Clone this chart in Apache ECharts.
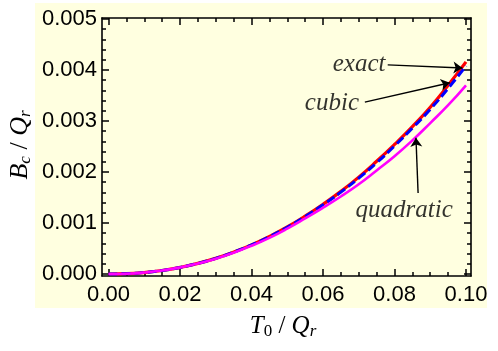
<!DOCTYPE html>
<html>
<head>
<meta charset="utf-8">
<script src="https://cdn.jsdelivr.net/npm/echarts@6/dist/echarts.min.js"></script>
<style>
  html, body { margin: 0; padding: 0; background: #fff; }
  #chart { width: 498px; height: 351px; }
</style>
</head>
<body>
<div id="chart"></div>
<script>
// T0/Qr sample points
const tValues = [0, 0.005, 0.01, 0.015, 0.02, 0.025, 0.03, 0.035, 0.04, 0.045, 0.05,
  0.055, 0.06, 0.065, 0.07, 0.075, 0.08, 0.085, 0.09, 0.095, 0.1];
// Bc/Qr curves
const exactValues = [0, 0.0000065, 0.000029, 0.000069, 0.000129, 0.000208, 0.000308, 0.000429,
  0.000571, 0.000736, 0.000923, 0.001134, 0.001367, 0.00162, 0.0019, 0.00221, 0.00254,
  0.00289, 0.00327, 0.0037, 0.00416];
const cubicValues = [0, 0.0000065, 0.000029, 0.000069, 0.000129, 0.000208, 0.000307, 0.000428,
  0.000569, 0.000733, 0.000918, 0.001126, 0.001356, 0.001606, 0.00188, 0.00218, 0.00251,
  0.00286, 0.00323, 0.00364, 0.00408];
const quadraticValues = [0, 0.0000065, 0.000029, 0.000069, 0.000128, 0.000205, 0.0003, 0.000418,
  0.000555, 0.00071, 0.00089, 0.00109, 0.0013, 0.00152, 0.00176, 0.00203, 0.00231,
  0.00262, 0.00296, 0.00331, 0.0037];

// ticks
const xMajor = [0, 0.02, 0.04, 0.06, 0.08, 0.1];
const xMinor = [0.005, 0.01, 0.015, 0.025, 0.03, 0.035, 0.045, 0.05, 0.055, 0.065, 0.07, 0.075,
  0.085, 0.09, 0.095];
const yMajor = [0, 0.001, 0.002, 0.003, 0.004, 0.005];
const yMinor = [0.0002, 0.0004, 0.0006, 0.0008, 0.0012, 0.0014, 0.0016, 0.0018, 0.0022, 0.0024,
  0.0026, 0.0028, 0.0032, 0.0034, 0.0036, 0.0038, 0.0042, 0.0044, 0.0046, 0.0048];

// annotations: label anchor and arrow [from, to] in data units
const annoNames = ['exact', 'cubic', 'quadratic'];
const annoText = [[0.0701, 0.0041], [0.0625, 0.00335], [0.0827, 0.00125]];
const annoArrows = [
  [[0.0781, 0.0041], [0.0990, 0.00404]],
  [[0.0717, 0.00337], [0.0955, 0.00375]],
  [[0.0866, 0.00159], [0.0860, 0.00267]]
];

const X_MIN = -0.00182, X_MAX = 0.1014;
const Y_MIN = -0.000039, Y_MAX = 0.00502;

const chart = echarts.init(document.getElementById('chart'), null, { renderer: 'canvas' });

const sansFont = '"Liberation Sans", Arial, sans-serif';
const serifFont = '"Liberation Serif", "Times New Roman", serif';

function pairs(ys) {
  return tValues.map((t, i) => [t, ys[i]]);
}

function xAxisDef(pos, ticks, len, labels, line) {
  return {
    type: 'value', position: pos, min: X_MIN, max: X_MAX,
    axisLine: { show: line, onZero: false, lineStyle: { color: '#000', width: 1.6 } },
    axisTick: { show: true, inside: true, length: len, customValues: ticks,
      lineStyle: { color: '#000', width: 1.5 } },
    axisLabel: labels ? {
      show: true, customValues: ticks, margin: 8, color: '#000',
      fontFamily: sansFont, fontSize: 22,
      formatter: v => v.toFixed(2)
    } : { show: false },
    splitLine: { show: false }
  };
}

function yAxisDef(pos, ticks, len, labels, line) {
  return {
    type: 'value', position: pos, min: Y_MIN, max: Y_MAX,
    axisLine: { show: line, onZero: false, lineStyle: { color: '#000', width: 1.6 } },
    axisTick: { show: true, inside: true, length: len, customValues: ticks,
      lineStyle: { color: '#000', width: 1.5 } },
    axisLabel: labels ? {
      show: true, customValues: ticks, margin: 5, color: '#000',
      fontFamily: sansFont, fontSize: 22,
      formatter: v => v.toFixed(3)
    } : { show: false },
    splitLine: { show: false }
  };
}

const option = {
  animation: false,
  backgroundColor: '#fff',
  grid: { left: 102, right: 27, top: 18, bottom: 75, containLabel: false },
  graphic: [
    { type: 'rect', z: -10, shape: { x: 35, y: 3, width: 452, height: 305 },
      style: { fill: '#ffffe0' }, silent: true },
    { type: 'text', rotation: Math.PI / 2, x: 20, y: 145,
      style: {
        text: '{i|B}{s|c}{n| / }{i|Q}{s|r}', align: 'center', verticalAlign: 'middle',
        rich: {
          i: { fontFamily: serifFont, fontStyle: 'italic', fontSize: 26, fill: '#000' },
          s: { fontFamily: serifFont, fontStyle: 'italic', fontSize: 17, fill: '#000', padding: [12, 0, 0, 0] },
          n: { fontFamily: serifFont, fontSize: 26, fill: '#000' }
        }
      }
    },
    { type: 'text', x: 283, y: 326,
      style: {
        text: '{i|T}{u|0}{n| / }{i|Q}{s|r}', align: 'center', verticalAlign: 'middle',
        rich: {
          i: { fontFamily: serifFont, fontStyle: 'italic', fontSize: 25, fill: '#000' },
          u: { fontFamily: serifFont, fontSize: 17, fill: '#000', padding: [12, 0, 0, 0] },
          s: { fontFamily: serifFont, fontStyle: 'italic', fontSize: 17, fill: '#000', padding: [12, 0, 0, 0] },
          n: { fontFamily: serifFont, fontSize: 25, fill: '#000' }
        }
      }
    }
  ],
  xAxis: [
    xAxisDef('bottom', xMajor, 7, true, true),
    xAxisDef('bottom', xMinor, 4, false, false),
    xAxisDef('top', xMajor, 7, false, true),
    xAxisDef('top', xMinor, 4, false, false)
  ],
  yAxis: [
    yAxisDef('left', yMajor, 7, true, true),
    yAxisDef('left', yMinor, 4, false, false),
    yAxisDef('right', yMajor, 7, false, true),
    yAxisDef('right', yMinor, 4, false, false)
  ],
  series: [
    {
      name: 'exact', type: 'line', data: pairs(exactValues), smooth: true,
      showSymbol: false, lineStyle: { color: '#ff0000', width: 3.2 }, z: 2
    },
    {
      name: 'cubic', type: 'line', data: pairs(cubicValues), smooth: true,
      showSymbol: false, lineStyle: { color: '#0000ff', width: 3, type: [9, 4] }, z: 3
    },
    {
      name: 'quadratic', type: 'line', data: pairs(quadraticValues), smooth: true,
      showSymbol: false, lineStyle: { color: '#ff00ff', width: 2.6 }, z: 4
    },
    {
      type: 'lines', coordinateSystem: 'cartesian2d', z: 5,
      symbol: ['none', 'arrow'], symbolSize: 9,
      lineStyle: { color: '#000', width: 1.4, opacity: 1 },
      data: annoArrows.map(c => ({ coords: c }))
    },
    {
      type: 'scatter', symbolSize: 0, z: 6,
      data: annoText.map((p, i) => ({ value: p, name: annoNames[i] })),
      label: {
        show: true, position: 'inside', formatter: p => p.name, color: '#000',
        fontFamily: serifFont, fontStyle: 'italic', fontSize: 25
      }
    }
  ]
};

chart.setOption(option);
</script>
</body>
</html>
